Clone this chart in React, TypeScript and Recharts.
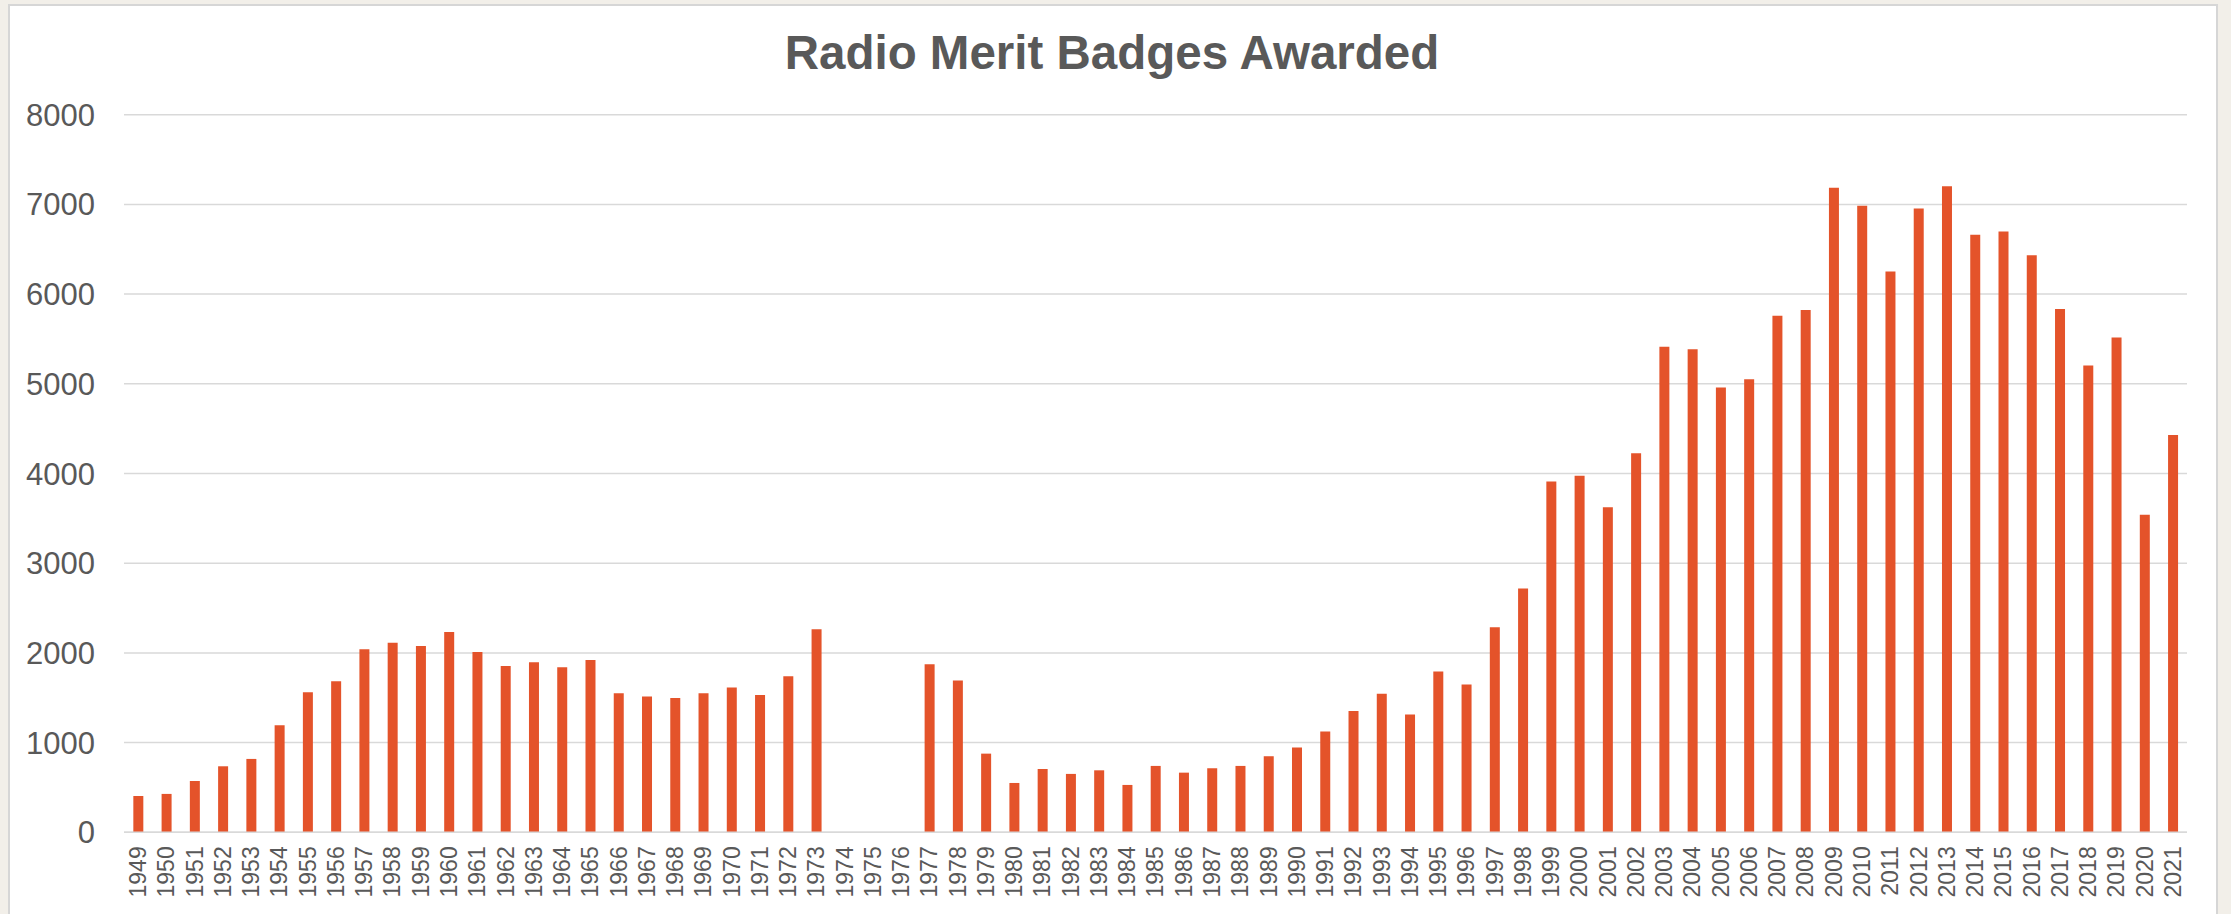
import React from "react";
import { BarChart, Bar, XAxis, YAxis, CartesianGrid } from "recharts";

const years = [
  "1949", "1950", "1951", "1952", "1953", "1954", "1955", "1956", "1957", "1958",
  "1959", "1960", "1961", "1962", "1963", "1964", "1965", "1966", "1967", "1968",
  "1969", "1970", "1971", "1972", "1973", "1974", "1975", "1976", "1977", "1978",
  "1979", "1980", "1981", "1982", "1983", "1984", "1985", "1986", "1987", "1988",
  "1989", "1990", "1991", "1992", "1993", "1994", "1995", "1996", "1997", "1998",
  "1999", "2000", "2001", "2002", "2003", "2004", "2005", "2006", "2007", "2008",
  "2009", "2010", "2011", "2012", "2013", "2014", "2015", "2016", "2017", "2018",
  "2019", "2020", "2021",
];

// badges awarded per year (no data for 1974-1976)
const badges: (number | null)[] = [
  405, 428, 572, 736, 818, 1193, 1561, 1684, 2041, 2112,
  2078, 2234, 2011, 1855, 1896, 1840, 1922, 1550, 1513, 1498,
  1550, 1613, 1532, 1740, 2264, null, null, null, 1874, 1691,
  877, 550, 706, 651, 691, 528, 740, 665, 714, 740,
  848, 946, 1124, 1351, 1545, 1313, 1794, 1648, 2285, 2717,
  3911, 3976, 3625, 4225, 5413, 5386, 4959, 5051, 5759, 5824,
  7185, 6985, 6251, 6953, 7202, 6661, 6699, 6434, 5835, 5203,
  5516, 3539, 4430,
];

const yTicks = [0, 1000, 2000, 3000, 4000, 5000, 6000, 7000, 8000];

const chartData = years.map((year, i) => ({ year, badges: badges[i] }));

const FONT = '"Liberation Sans", Arial, sans-serif';
const TEXT = "#595959";
const GRID = "#d9d9d9";

function YearTick(props: any) {
  const { x, y, payload } = props;
  return (
    <text
      x={x}
      y={y}
      transform={`rotate(-90, ${x}, ${y})`}
      textAnchor="end"
      dominantBaseline="central"
      fill={TEXT}
      fontSize={23}
      fontFamily={FONT}
    >
      {payload.value}
    </text>
  );
}

export default function App() {
  return (
    <div
      style={{
        position: "absolute",
        left: 0,
        top: 0,
        width: 2231,
        height: 914,
        overflow: "hidden",
        background: "#f2efe9",
        fontFamily: FONT,
      }}
    >
      <div
        style={{
          position: "absolute",
          left: 8,
          top: 4,
          width: 2206,
          height: 940,
          background: "#ffffff",
          border: "2px solid #d6d6d6",
        }}
      />
      <div
        style={{
          position: "absolute",
          left: 0,
          top: 29,
          width: 2224,
          textAlign: "center",
          fontSize: 47.5,
          lineHeight: "48px",
          fontWeight: "bold",
          color: TEXT,
        }}
      >
        Radio Merit Badges Awarded
      </div>
      <div style={{ position: "absolute", left: 0, top: 0 }}>
        <BarChart
          width={2231}
          height={914}
          data={chartData}
          margin={{ top: 114.7, right: 44, left: 24, bottom: 0 }}
          barCategoryGap="33%"
        >
          <CartesianGrid vertical={false} stroke={GRID} strokeWidth={1.5} />
          <XAxis
            dataKey="year"
            interval={0}
            tickLine={false}
            axisLine={{ stroke: GRID, strokeWidth: 1.5 }}
            tickSize={0}
            tickMargin={14}
            height={81.7}
            tick={<YearTick />}
          />
          <YAxis
            width={100}
            domain={[0, 8000]}
            ticks={yTicks}
            interval={0}
            axisLine={false}
            tickLine={false}
            tickSize={0}
            tickMargin={29}
            tick={{ fill: TEXT, fontSize: 31, fontFamily: FONT }}
          />
          <Bar dataKey="badges" fill="#e4532a" isAnimationActive={false} />
        </BarChart>
      </div>
    </div>
  );
}
